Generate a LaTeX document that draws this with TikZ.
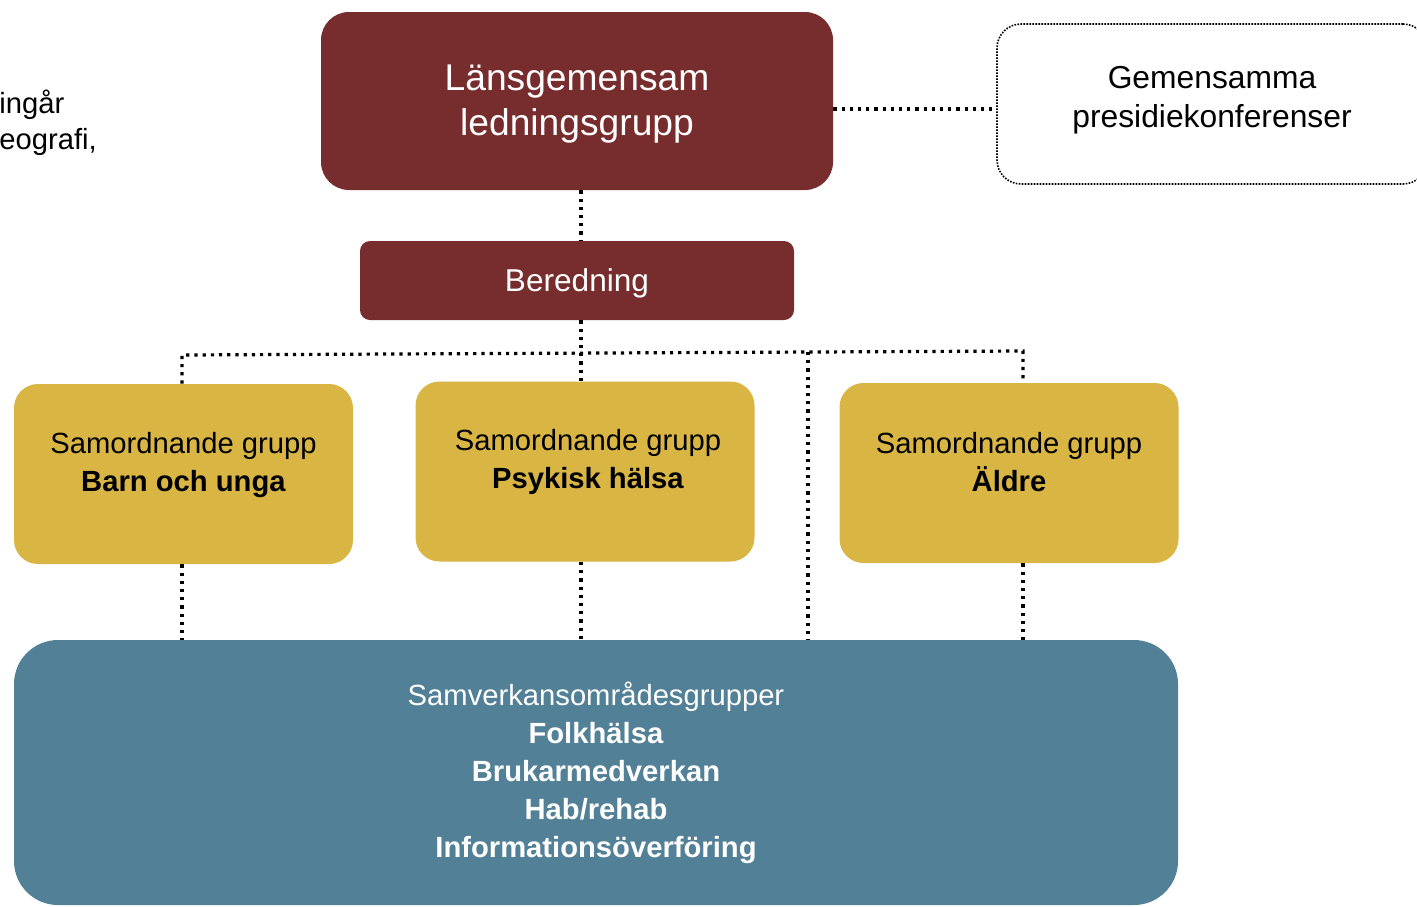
\documentclass[tikz,border=0pt]{standalone}
\usepackage{fontspec}
\setmainfont{Liberation Sans}
\usetikzlibrary{positioning}
\definecolor{ledred}{HTML}{772D2D}
\definecolor{grpyellow}{HTML}{D9B644}
\definecolor{omrblue}{HTML}{528096}

\begin{document}
\begin{tikzpicture}[
    x=0.5pt, y=-0.5pt,
    rbox/.style={fill=ledred, text=white, inner sep=0, align=center},
    gbox/.style={fill=grpyellow, rounded corners=12pt, inner sep=0, minimum width=169.5pt, minimum height=90pt},
    glabel/.style={align=center, inner sep=0, font=\fontsize{14.6}{19}\selectfont},
    dlink/.style={draw=black, line width=1.6pt, dash pattern=on 1.6pt off 2.5pt}
]
\clip (0,0) rectangle (1417,906);

% Cut-off note
\node[anchor=west, align=left, inner sep=0, font=\fontsize{14.6}{18}\selectfont] (note) at (-1,123) {ingår\\eografi,};

% Ledning
\node[rbox, rounded corners=14pt, minimum width=256pt, minimum height=89pt] (lead) at (577,101) {};
\node[align=center, text=white, inner sep=0, font=\fontsize{18.6}{22.5}\selectfont] (leadlbl) at ([yshift=-1.5pt]lead.center) {Länsgemensam\\ledningsgrupp};
\node[draw, line width=0.8pt, dash pattern=on 0.8pt off 0.7pt, rounded corners=12pt, minimum width=215pt, minimum height=80pt] (pres) at (1212,104) {};
\node[align=center, inner sep=0, font=\fontsize{15.9}{19.5}\selectfont] (preslbl) at ([yshift=2pt]pres.center) {Gemensamma\\presidiekonferenser};
\draw[dlink] ([yshift=-4pt]lead.east) -- ([yshift=-4pt]lead.east -| pres.west);

% Beredning
\node[rbox, rounded corners=5pt, minimum width=217pt, minimum height=39.5pt] (bered) at (577,280.5) {};
\node[text=white, inner sep=0, font=\fontsize{15.8}{19}\selectfont] (beredlbl) at ([yshift=-1.5pt]bered.center) {Beredning};

% Samordnande grupper
\node[gbox] (barn) at (183.5,474) {};
\node[glabel] (barnlbl) at ([yshift=4.5pt]barn.center) {Samordnande grupp\\\textbf{Barn och unga}};
\node[gbox] (psyk) at (585,471.5) {};
\node[glabel] (psyklbl) at ([xshift=1.5pt, yshift=5pt]psyk.center) {Samordnande grupp\\\textbf{Psykisk hälsa}};
\node[gbox] (aldre) at (1009,473) {};
\node[glabel] (aldrelbl) at ([yshift=5.5pt]aldre.center) {Samordnande grupp\\\textbf{Äldre}};

% Samverkansområden
\node[fill=omrblue, text=white, rounded corners=22pt, inner sep=0, minimum width=582pt, minimum height=132.5pt, align=center, font=\fontsize{14.6}{19}\selectfont] (samv) at (596,772.5) {Samverkansområdesgrupper\\\textbf{Folkhälsa}\\\textbf{Brukarmedverkan}\\\textbf{Hab/rehab}\\\textbf{Informationsöverföring}};

% Links
\coordinate (spine) at (581,353);
\coordinate (bl) at (182,355);
\coordinate (bm) at (808,352);
\coordinate (br) at (1023,351);
\draw[dlink] (lead.south -| spine) -- (bered.north -| spine);
\draw[dlink] (bered.south -| spine) -- (psyk.north -| spine);
\draw[dlink] (barn.north -| bl) -- (bl) -- (br) -- (aldre.north -| br);
\draw[dlink] (bm) -- (samv.north -| bm);
\draw[dlink] (barn.south -| bl) -- (samv.north -| bl);
\draw[dlink] (psyk.south -| spine) -- (samv.north -| spine);
\draw[dlink] (aldre.south -| br) -- (samv.north -| br);

\end{tikzpicture}
\end{document}
